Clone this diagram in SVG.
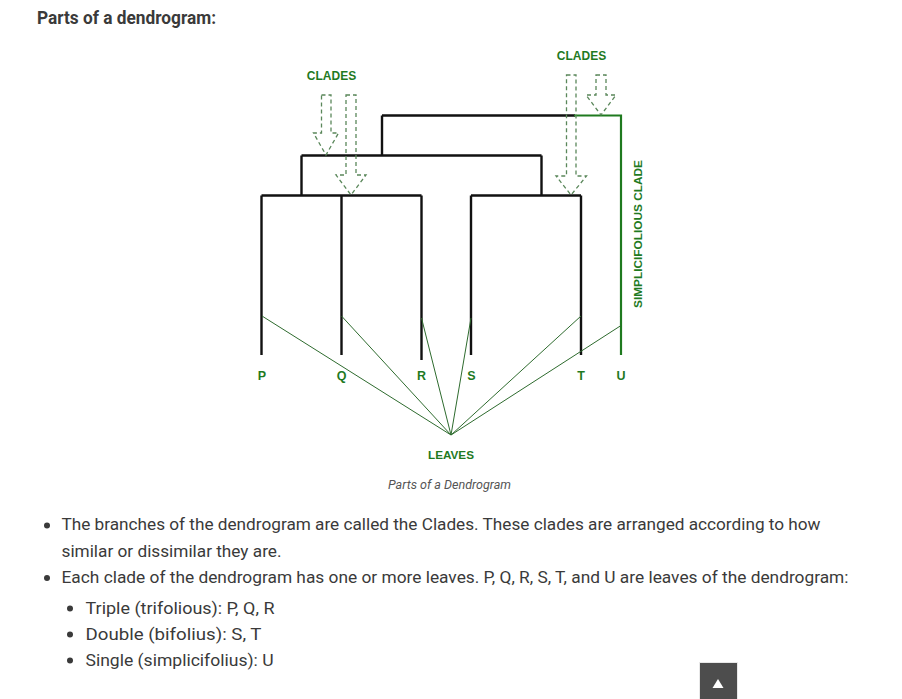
<svg xmlns="http://www.w3.org/2000/svg" width="902" height="699" viewBox="0 0 902 699">
<style>
.blk{stroke:#111;stroke-width:2.4;fill:none}
.grn{stroke:#1f7a1f;stroke-width:2.2;fill:none}
.leafln{stroke:#2e6b2e;stroke-width:1;fill:none}
.dash{stroke:#5a875a;stroke-width:1.3;fill:none;stroke-dasharray:4 3}
.lbl{font-family:"Liberation Sans",Arial,sans-serif;font-weight:bold;fill:#1f7a1f;text-anchor:middle}
.body{font-family:Roboto,"Liberation Sans",sans-serif;font-size:16px;fill:#3a3a3a}
</style>
<rect width="902" height="699" fill="#ffffff"/>
<text x="37" y="24" font-family="Roboto,'Liberation Sans',sans-serif" font-weight="bold" font-size="18" fill="#3a3a3a" textLength="179" lengthAdjust="spacingAndGlyphs">Parts of a dendrogram:</text>

<g id="connectors">
<path class="blk" d="M382,115.5 H575 M382,115.5 V155.5 M301.5,155.5 H541.5 M301.5,155.5 V195.5 M541.5,155.5 V195.5 M261.5,195.5 H421.5 M471,195.5 H581"/>
<path class="blk" d="M261.5,195.5 V355 M341.5,195.5 V355 M421.5,195.5 V360 M471,195.5 V355 M581,195.5 V355"/>
<path class="grn" d="M574,115.5 H621 V355"/>
<path class="leafln" d="M451,435 L262,316 M451,435 L341.5,316 M451,435 L421.5,318 M451,435 L471,318 M451,435 L581,316 M451,435 L621,325.5"/>
<path class="dash" d="M321.5,95 H331 V133 H338.5 L326,155 L313.5,133 H321.5 Z"/>
<path class="dash" d="M346,95 H356 V175 H366 L351,195 L336,175 H346 Z"/>
<path class="dash" d="M566.5,75 H576 V176 H586.5 L571,195 L556,176 H566.5 Z"/>
<path class="dash" d="M596,75 H606 V95 H616 L601,115 L586,95 H596 Z"/>
</g>

<g id="clades-left"><text class="lbl" x="331.5" y="80" font-size="12">CLADES</text></g>
<g id="clades-right"><text class="lbl" x="581.5" y="60" font-size="12">CLADES</text></g>
<g id="simplicifolious"><text class="lbl" font-size="11.5" transform="translate(641.5,234) rotate(-90)" textLength="148" lengthAdjust="spacingAndGlyphs">SIMPLICIFOLIOUS CLADE</text></g>
<g id="leaf-P"><text class="lbl" x="262" y="380" font-size="12.5">P</text></g>
<g id="leaf-Q"><text class="lbl" x="341.5" y="380" font-size="12.5">Q</text></g>
<g id="leaf-R"><text class="lbl" x="421.5" y="380" font-size="12.5">R</text></g>
<g id="leaf-S"><text class="lbl" x="471.5" y="380" font-size="12.5">S</text></g>
<g id="leaf-T"><text class="lbl" x="581" y="380" font-size="12.5">T</text></g>
<g id="leaf-U"><text class="lbl" x="621" y="380" font-size="12.5">U</text></g>
<g id="leaves"><text class="lbl" x="451" y="459" font-size="11.7">LEAVES</text></g>

<text x="449.5" y="489" font-family="Roboto,'Liberation Sans',sans-serif" font-style="italic" font-size="12.5" fill="#555" text-anchor="middle" textLength="123" lengthAdjust="spacingAndGlyphs">Parts of a Dendrogram</text>

<circle cx="47" cy="525.5" r="3" fill="#3a3a3a"/>
<text class="body" x="61.5" y="530" textLength="759" lengthAdjust="spacingAndGlyphs">The branches of the dendrogram are called the Clades. These clades are arranged according to how</text>
<text class="body" x="61.5" y="556.5" textLength="220" lengthAdjust="spacingAndGlyphs">similar or dissimilar they are.</text>
<circle cx="47" cy="578" r="3" fill="#3a3a3a"/>
<text class="body" x="61.5" y="583" textLength="787" lengthAdjust="spacingAndGlyphs">Each clade of the dendrogram has one or more leaves. P, Q, R, S, T, and U are leaves of the dendrogram:</text>
<circle cx="70" cy="608.5" r="3" fill="#3a3a3a"/>
<text class="body" x="85.5" y="614" textLength="189" lengthAdjust="spacingAndGlyphs">Triple (trifolious): P, Q, R</text>
<circle cx="70" cy="634.5" r="3" fill="#3a3a3a"/>
<text class="body" x="85.5" y="640" textLength="176" lengthAdjust="spacingAndGlyphs">Double (bifolius): S, T</text>
<circle cx="70" cy="660.5" r="3" fill="#3a3a3a"/>
<text class="body" x="85.5" y="666" textLength="188" lengthAdjust="spacingAndGlyphs">Single (simplicifolius): U</text>

<rect x="699.5" y="662.5" width="38" height="40" fill="#4d4d4d" stroke="#e8e8e8" stroke-width="1"/>
<path d="M718,679 L723.5,688 H712.5 Z" fill="#ffffff"/>
</svg>
